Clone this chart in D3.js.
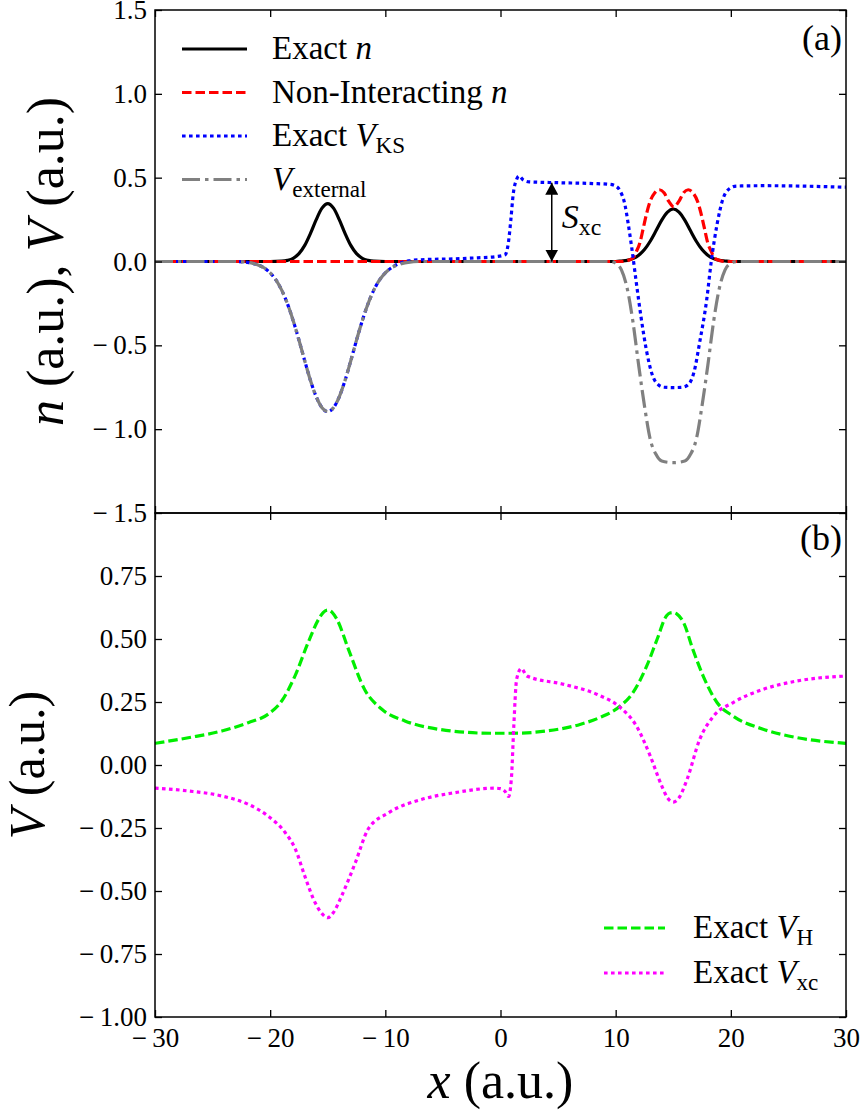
<!DOCTYPE html>
<html lang="en">
<head>
<meta charset="UTF-8">
<title>Exact KS potential</title>
<script src="https://cdn.jsdelivr.net/npm/d3@7"></script>
</head>
<body style="margin:0">
<script>
// ---- panel (a): densities and potentials ----
const nExactX = [-30, -20, -19, -18.5, -18, -17.5, -17, -16.5, -16, -15.5, -15, -14.5, -14, -13.5, -13, -12.5, -12, -11.5, -11, -10,
                 10, 10.5, 11, 11.5, 12, 12.5, 13, 13.5, 14, 14.5, 15, 15.5, 16, 16.5, 17, 17.5, 18, 18.5, 19, 19.5, 20, 30];
const nExact  = [0, 0, 0.002, 0.007, 0.019, 0.047, 0.096, 0.168, 0.25, 0.318, 0.345, 0.318, 0.25, 0.168, 0.096, 0.047, 0.019, 0.007, 0.002, 0,
                 0, 0.003, 0.007, 0.017, 0.037, 0.071, 0.121, 0.183, 0.247, 0.295, 0.313, 0.295, 0.247, 0.183, 0.121, 0.071, 0.037, 0.017, 0.007, 0.003, 0, 0];

const nNonIntX = [-30, 10.5, 11, 11.5, 11.8, 12.1, 12.4, 12.7, 13, 13.4, 13.8, 14.2, 14.6, 15.05, 15.5, 15.9, 16.3, 16.7, 17.1, 17.4,
                  17.7, 18, 18.3, 18.6, 19.1, 19.6, 30];
const nNonInt  = [0, 0, 0.005, 0.02, 0.06, 0.11, 0.2, 0.29, 0.36, 0.41, 0.428, 0.41, 0.36, 0.326, 0.36, 0.41, 0.428, 0.41, 0.36, 0.29,
                  0.2, 0.11, 0.06, 0.02, 0.005, 0, 0];

const vKsX = [-30, -23, -22, -21.5, -21, -20.5, -20, -19.5, -19, -18.5, -18, -17.5, -17, -16.5, -16, -15.5, -15, -14.5, -14, -13.5,
              -13, -12.5, -12, -11.5, -11, -10.5, -10, -9.5, -9, -8.5, -8, -7, -4, -2, -0.5, 0.4, 0.7, 0.9, 1.1, 1.4,
              1.6, 2, 2.5, 5, 8, 9.5, 10, 10.4, 10.8, 11.1, 11.4, 11.8, 12.2, 12.7, 13.2, 13.7, 14.2, 15, 15.8, 16.3,
              16.8, 17.3, 17.9, 18.3, 18.8, 19.3, 19.9, 20.5, 23, 30];
const vKs  = [0, 0, -0.005, -0.011, -0.022, -0.039, -0.068, -0.11, -0.171, -0.252, -0.353, -0.469, -0.592, -0.71, -0.807, -0.872, -0.895, -0.872, -0.807, -0.71,
              -0.592, -0.469, -0.353, -0.252, -0.171, -0.11, -0.068, -0.039, -0.018, -0.004, 0.004, 0.01, 0.016, 0.022, 0.028, 0.04, 0.12, 0.25, 0.4, 0.49,
              0.51, 0.485, 0.475, 0.47, 0.465, 0.46, 0.45, 0.42, 0.34, 0.22, 0.08, -0.13, -0.33, -0.54, -0.68, -0.735, -0.75, -0.752, -0.75, -0.735,
              -0.66, -0.48, -0.23, 0, 0.22, 0.37, 0.435, 0.45, 0.452, 0.443];

const vExtX = [-30, -23, -22, -21.5, -21, -20.5, -20, -19.5, -19, -18.5, -18, -17.5, -17, -16.5, -16, -15.5, -15, -14.5, -14, -13.5,
               -13, -12.5, -12, -11.5, -11, -10.5, -10, -9.5, -9, -8.5, -8, -7,
               9.5, 10, 10.5, 11, 11.5, 12, 12.5, 13, 13.5, 14, 15, 16, 16.5, 17, 17.5, 18, 18.5, 19, 19.5, 20, 20.5, 30];
const vExt  = [0, 0, -0.005, -0.011, -0.022, -0.039, -0.068, -0.11, -0.171, -0.252, -0.353, -0.469, -0.592, -0.71, -0.807, -0.872, -0.895, -0.872, -0.807, -0.71,
               -0.592, -0.469, -0.353, -0.252, -0.171, -0.11, -0.068, -0.039, -0.022, -0.011, -0.005, 0,
               0, -0.01, -0.05, -0.16, -0.36, -0.62, -0.86, -1.06, -1.15, -1.19, -1.2, -1.19, -1.15, -1.06, -0.86, -0.62, -0.36, -0.16, -0.05, -0.01, 0, 0];

// S_xc step marker
const sxcX = 4.45;
const sxcY = [0, 0.47];

// ---- panel (b): Hartree and xc potentials ----
const vHX = [-30, -27, -24.2, -21.9, -20.2, -19, -17.85, -16.7, -15.8, -15.4, -15, -14.6, -14.2, -13.2, -11.8, -10.3, -8.3, -5.4, -0.8, 1.1,
             4, 6.9, 8.6, 10.4, 11.5, 12.7, 13.6, 14.4, 14.7, 15, 15.3, 15.9, 16.7, 17.6, 18.8, 20.2, 22.8, 25.7, 30];
const vH  = [0.086, 0.109, 0.135, 0.168, 0.201, 0.254, 0.353, 0.486, 0.578, 0.605, 0.615, 0.605, 0.578, 0.459, 0.3, 0.221, 0.175, 0.142, 0.126, 0.126,
             0.135, 0.161, 0.188, 0.234, 0.287, 0.393, 0.499, 0.591, 0.603, 0.605, 0.6, 0.565, 0.459, 0.353, 0.248, 0.194, 0.142, 0.109, 0.086];

const vXcX = [-30, -27.1, -24.2, -21.9, -20.2, -18.7, -17.8, -17, -16.1, -15.5, -15, -14.5, -13.8, -12.6, -11.5, -9.7, -6.8, -4, -0.5, 0,
              0.4, 0.7, 0.95, 1.15, 1.4, 1.8, 2.3, 5.5, 8.4, 10.4, 11.8, 13, 14, 14.5, 15, 15.5, 16.2, 17.3, 18.5, 20.2,
              22.8, 25.7, 30];
const vXc  = [-0.092, -0.103, -0.123, -0.156, -0.202, -0.268, -0.335, -0.44, -0.546, -0.59, -0.606, -0.585, -0.52, -0.387, -0.255, -0.189, -0.136, -0.11, -0.092, -0.094,
              -0.105, -0.125, -0.05, 0.15, 0.34, 0.383, 0.353, 0.32, 0.28, 0.228, 0.155, 0.036, -0.083, -0.13, -0.147, -0.13, -0.057, 0.102, 0.194, 0.248,
              0.3, 0.333, 0.353];

// ticks
const xTicks = [-30, -20, -10, 0, 10, 20, 30];
const yTicksA = [-1.5, -1, -0.5, 0, 0.5, 1, 1.5];
const yTicksB = [-1, -0.75, -0.5, -0.25, 0, 0.25, 0.5, 0.75];

// ---- layout ----
const W = 861, H = 1114;
const left = 155, right = 846;
const topA = 10, botA = 513, topB = 513, botB = 1017;
const FONT = "'Liberation Serif'";

const x = d3.scaleLinear().domain([-30, 30]).range([left, right]);
const yA = d3.scaleLinear().domain([-1.5, 1.5]).range([botA, topA]);
const yB = d3.scaleLinear().domain([-1, 1]).range([botB, topB]);

const svg = d3.select("body").append("svg")
    .attr("width", W).attr("height", H)
    .style("font-family", FONT);

const withMinus = f => d => (d < 0 ? "\u2212\u2009" : "") + f(Math.abs(d));

function styleAxis(g, size) {
  g.select(".domain").remove();
  g.attr("font-family", FONT).attr("font-size", size);
  g.selectAll("text").style("font-family", FONT).attr("font-size", size).attr("fill", "#000");
  g.selectAll(".tick line").attr("stroke", "#000").attr("stroke-width", 1.3);
}

function drawLine(y, xs, ys, color, dash) {
  svg.append("path")
    .datum(d3.zip(xs, ys))
    .attr("fill", "none")
    .attr("stroke", color)
    .attr("stroke-width", 3.2)
    .attr("stroke-dasharray", dash)
    .attr("d", d3.line().x(d => x(d[0])).y(d => y(d[1])).curve(d3.curveMonotoneX));
}

// panel (a) curves: black, red, blue, grey on top
drawLine(yA, nExactX, nExact, "#000", null);
drawLine(yA, nNonIntX, nNonInt, "#ff0000", "9.5,4");
drawLine(yA, vKsX, vKs, "#0000ff", "3.6,3.4");
drawLine(yA, vExtX, vExt, "#808080", "18,5,3.5,5");

// panel (b) curves
drawLine(yB, vHX, vH, "#00ee00", "9.5,4");
drawLine(yB, vXcX, vXc, "#ff00ff", "3.6,3.4");

// axes, ticks pointing inward on all sides
function panelAxes(y, yTicks, fmt, top, bottom, labelsX) {
  svg.append("g").attr("transform", `translate(${left},0)`)
    .call(d3.axisLeft(y).tickValues(yTicks).tickFormat(withMinus(fmt)).tickSize(-7).tickPadding(8))
    .call(g => styleAxis(g, 27));
  svg.append("g").attr("transform", `translate(${right},0)`)
    .call(d3.axisRight(y).tickValues(yTicks).tickFormat("").tickSize(-7))
    .call(g => styleAxis(g, 27));
  svg.append("g").attr("transform", `translate(0,${top})`)
    .call(d3.axisTop(x).tickValues(xTicks).tickFormat("").tickSize(-7))
    .call(g => styleAxis(g, 27));
  svg.append("g").attr("transform", `translate(0,${bottom})`)
    .call(d3.axisBottom(x).tickValues(xTicks)
      .tickFormat(labelsX ? withMinus(d3.format("d")) : "").tickSize(-7).tickPadding(11))
    .call(g => styleAxis(g, 27));
  svg.append("rect")
    .attr("x", left).attr("y", top)
    .attr("width", right - left).attr("height", bottom - top)
    .attr("fill", "none").attr("stroke", "#000").attr("stroke-width", 1.5);
}
panelAxes(yA, yTicksA, d3.format(".1f"), topA, botA, false);
panelAxes(yB, yTicksB, d3.format(".2f"), topB, botB, true);

// text with italic symbols and subscripts
function richText(g, parts, size) {
  const t = g.append("text").attr("font-size", size).style("font-family", FONT);
  parts.forEach(([s, kind]) => {
    const sp = t.append("tspan").text(s);
    if (kind === "i") sp.attr("font-style", "italic");
    if (kind === "sub") sp.attr("font-size", size * 0.7).attr("dy", size * 0.22);
  });
  return t;
}

richText(svg, [["n", "i"], [" (a.u.), ", ""], ["V", "i"], [" (a.u.)", ""]], 52)
  .attr("text-anchor", "middle")
  .attr("transform", `translate(63,${(topA + botA) / 2}) rotate(-90)`);
richText(svg, [["V", "i"], [" (a.u.)", ""]], 50)
  .attr("text-anchor", "middle")
  .attr("transform", `translate(44,${(topB + botB) / 2}) rotate(-90)`);
richText(svg, [["x", "i"], [" (a.u.)", ""]], 52)
  .attr("text-anchor", "middle")
  .attr("x", (left + right) / 2).attr("y", 1098);

// panel letters
richText(svg, [["(a)", ""]], 36).attr("x", 842).attr("y", 50).attr("text-anchor", "end");
richText(svg, [["(b)", ""]], 36).attr("x", 842).attr("y", 550).attr("text-anchor", "end");

// S_xc arrow
const defs = svg.append("defs");
defs.append("marker")
  .attr("id", "head").attr("markerUnits", "userSpaceOnUse")
  .attr("markerWidth", 13).attr("markerHeight", 13)
  .attr("refX", 12).attr("refY", 6.5)
  .attr("orient", "auto-start-reverse")
  .append("path").attr("d", "M0,0L12,6.5L0,13Z").attr("fill", "#000");
svg.append("line")
  .attr("x1", x(sxcX)).attr("x2", x(sxcX))
  .attr("y1", yA(sxcY[0])).attr("y2", yA(sxcY[1]))
  .attr("stroke", "#000").attr("stroke-width", 1.5)
  .attr("marker-start", "url(#head)").attr("marker-end", "url(#head)");
richText(svg, [["S", "i"], ["xc", "sub"]], 34)
  .attr("x", x(sxcX) + 10).attr("y", 228);

// legends
function legend(rows, x1, x2, xt, y0, dy, size) {
  rows.forEach((r, i) => {
    const yc = y0 + i * dy;
    svg.append("line")
      .attr("x1", x1).attr("x2", x2).attr("y1", yc).attr("y2", yc)
      .attr("stroke", r.color).attr("stroke-width", 3.2)
      .attr("stroke-dasharray", r.dash);
    richText(svg, r.parts, size).attr("x", xt).attr("y", yc + 10);
  });
}

legend([
  {color: "#000", dash: null, parts: [["Exact ", ""], ["n", "i"]]},
  {color: "#ff0000", dash: "9.5,4", parts: [["Non-Interacting ", ""], ["n", "i"]]},
  {color: "#0000ff", dash: "3.6,3.4", parts: [["Exact ", ""], ["V", "i"], ["KS", "sub"]]},
  {color: "#808080", dash: "18,5,3.5,5", parts: [["V", "i"], ["external", "sub"]]}
], 182, 247, 272, 49, 43.5, 33);

legend([
  {color: "#00ee00", dash: "9.5,4", parts: [["Exact ", ""], ["V", "i"], ["H", "sub"]]},
  {color: "#ff00ff", dash: "3.6,3.4", parts: [["Exact ", ""], ["V", "i"], ["xc", "sub"]]}
], 604, 665, 693, 928, 45, 33);
</script>
</body>
</html>
